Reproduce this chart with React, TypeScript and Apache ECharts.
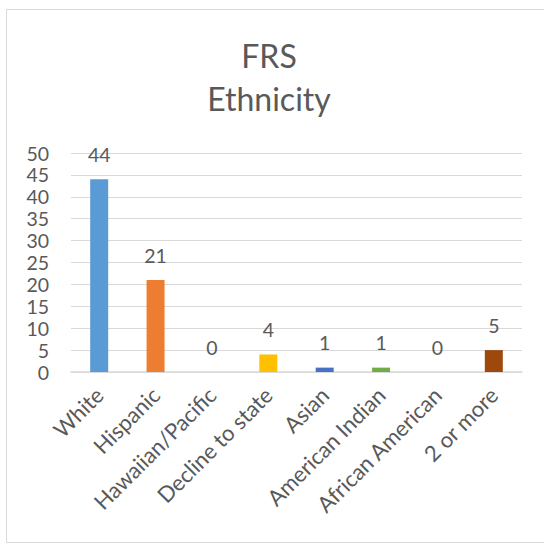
import React, { useEffect, useRef } from "react";
import * as echarts from "echarts";

const categories = [
  "White",
  "Hispanic",
  "Hawaiian/Pacific",
  "Decline to state",
  "Asian",
  "American Indian",
  "African American",
  "2 or more",
];
const values = [44, 21, 0, 4, 1, 1, 0, 5];
const barColors = [
  "#5B9BD5",
  "#ED7D31",
  "#A5A5A5",
  "#FFC000",
  "#4472C4",
  "#70AD47",
  "#264478",
  "#9E480E",
];
const titleLines = ["FRS", "Ethnicity"];

const FONT = "Lato, 'Open Sans', sans-serif";
const TEXT = "#595959";

export default function App() {
  const ref = useRef<HTMLDivElement>(null);
  useEffect(() => {
    if (!ref.current) return;
    const chart = echarts.init(ref.current, null, { renderer: "svg" });
    chart.setOption({
      animation: false,
      backgroundColor: "#ffffff",
      graphic: [
        {
          type: "rect",
          shape: { x: 6.5, y: 9.5, width: 560, height: 533 },
          style: { fill: "none", stroke: "#d9d9d9", lineWidth: 1 },
          silent: true,
        },
        {
          type: "text",
          x: 269,
          y: 55,
          style: {
            text: titleLines[0],
            textAlign: "center",
            textVerticalAlign: "middle",
            fontFamily: FONT,
            fontSize: 32,
            fill: TEXT,
          },
        },
        {
          type: "text",
          x: 269,
          y: 98,
          style: {
            text: titleLines[1],
            textAlign: "center",
            textVerticalAlign: "middle",
            fontFamily: FONT,
            fontSize: 32,
            fill: TEXT,
          },
        },
      ],
      grid: { left: 71, right: 22, top: 153, bottom: 172, containLabel: false },
      xAxis: {
        type: "category",
        data: categories,
        axisLine: { show: true, lineStyle: { color: "#d9d9d9", width: 1.5 } },
        axisTick: { show: false },
        axisLabel: {
          rotate: 45,
          interval: 0,
          margin: 19,
          color: TEXT,
          fontFamily: FONT,
          fontSize: 22,
        },
      },
      yAxis: {
        type: "value",
        min: 0,
        max: 50,
        interval: 5,
        axisLine: { show: false },
        axisTick: { show: false },
        splitLine: { lineStyle: { color: "#d9d9d9", width: 1 } },
        axisLabel: {
          margin: 22,
          color: TEXT,
          fontFamily: FONT,
          fontSize: 19.5,
        },
      },
      series: [
        {
          type: "bar",
          barWidth: 18,
          data: values.map((v, i) => ({
            value: v,
            itemStyle: { color: barColors[i] },
          })),
          label: {
            show: true,
            position: "top",
            distance: 15,
            color: TEXT,
            fontFamily: FONT,
            fontSize: 19.5,
          },
        },
      ],
    });
    return () => chart.dispose();
  }, []);
  return (
    <div
      ref={ref}
      style={{ position: "absolute", left: 0, top: 0, width: 544, height: 544 }}
    />
  );
}
